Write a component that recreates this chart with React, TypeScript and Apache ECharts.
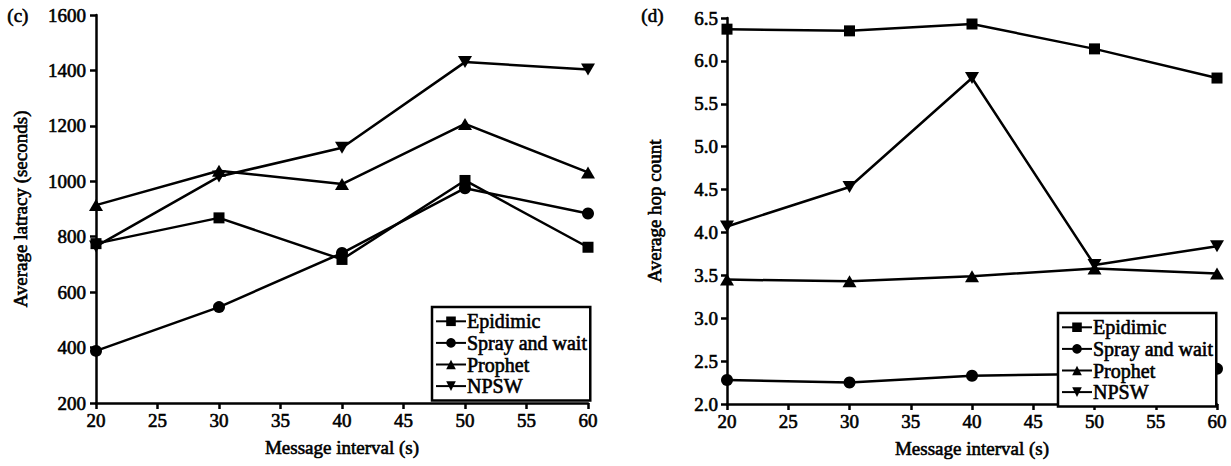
import React, { useEffect, useRef } from "react";
import * as echarts from "echarts";

const xValues = [20, 30, 40, 50, 60];
const seriesNames = ["Epidimic", "Spray and wait", "Prophet", "NPSW"];

// (c) Average latency (seconds)
const latEpidimic = [775, 868, 718, 1003, 762];
const latSpray = [388, 546, 741, 975, 884];
const latProphet = [914, 1038, 990, 1207, 1032];
const latNPSW = [765, 1017, 1121, 1430, 1403];

// (d) Average hop count
const hopEpidimic = [6.37, 6.35, 6.43, 6.14, 5.8];
const hopSpray = [2.28, 2.25, 2.33, 2.35, 2.41];
const hopProphet = [3.45, 3.43, 3.49, 3.58, 3.52];
const hopNPSW = [4.07, 4.53, 5.8, 3.62, 3.84];

const FONT = "Liberation Serif";
const DOWN_TRI = "path://M0,0 L12,0 L6,10 Z";

const symbols: any[] = ["rect", "circle", "triangle", DOWN_TRI];
const symbolSizes: any[] = [11, 12, [14, 12], [14, 12]];

function makeSeries(data: number[][], xi: number) {
  return data.map((vals, i) => ({
    name: seriesNames[i],
    type: "line",
    xAxisIndex: xi,
    yAxisIndex: xi,
    data: vals.map((v, k) => [xValues[k], v]),
    symbol: symbols[i],
    symbolSize: symbolSizes[i],
    showAllSymbol: true,
    lineStyle: { color: "#000", width: 2.5 },
    itemStyle: { color: "#000" },
    z: 2,
  }));
}

const thick = { textBorderColor: "#000", textBorderWidth: 0.6 };
const axisLine = { show: true, onZero: false, lineStyle: { color: "#000", width: 2.5 } };
const axisTick = { show: true, length: 6, inside: false, lineStyle: { color: "#000", width: 2.5 } };
const labelStyle = { color: "#000", fontFamily: FONT, fontSize: 19, ...thick };
const nameStyle = { color: "#000", fontFamily: FONT, fontSize: 19, ...thick };

function makeLegend(left: number, top: number) {
  return {
    orient: "vertical",
    left,
    top,
    padding: [4, 3, 4, 3],
    itemGap: 1,
    itemWidth: 30,
    itemHeight: 12,
    borderColor: "#000",
    borderWidth: 2.5,
    borderRadius: 0,
    backgroundColor: "#fff",
    z: 10,
    data: seriesNames,
    textStyle: {
      color: "#000",
      fontFamily: FONT,
      fontSize: 20,
      lineHeight: 20,
      padding: [0, 0, 0, -4],
      ...thick,
    },
    selectedMode: false,
  };
}

export default function App() {
  const ref = useRef<HTMLDivElement>(null);
  useEffect(() => {
    if (!ref.current) return;
    const chart = echarts.init(ref.current, undefined, { renderer: "svg" });
    chart.setOption({
      animation: false,
      backgroundColor: "#fff",
      textStyle: { fontFamily: FONT },
      grid: [
        { left: 96, top: 15, width: 492, height: 388 },
        { left: 727, top: 18, width: 490, height: 386 },
      ],
      xAxis: [0, 1].map((gi) => ({
        type: "value",
        gridIndex: gi,
        min: 20,
        max: 60,
        interval: 5,
        axisLine,
        axisTick,
        splitLine: { show: false },
        axisLabel: { ...labelStyle, margin: 8 },
        name: "Message interval (s)",
        nameLocation: "middle",
        nameGap: 35,
        nameTextStyle: nameStyle,
      })),
      yAxis: [
        {
          type: "value",
          gridIndex: 0,
          min: 200,
          max: 1600,
          interval: 200,
          axisLine,
          axisTick,
          splitLine: { show: false },
          axisLabel: { ...labelStyle, margin: 10, formatter: (v: number) => String(v) },
          name: "Average latracy (seconds)",
          nameLocation: "middle",
          nameGap: 66,
          nameTextStyle: nameStyle,
        },
        {
          type: "value",
          gridIndex: 1,
          min: 2,
          max: 6.5,
          interval: 0.5,
          axisLine,
          axisTick,
          splitLine: { show: false },
          axisLabel: { ...labelStyle, margin: 9, formatter: (v: number) => v.toFixed(1) },
          name: "Average hop count",
          nameLocation: "middle",
          nameGap: 63,
          nameTextStyle: nameStyle,
        },
      ],
      legend: [makeLegend(432, 307), makeLegend(1058, 313)],
      graphic: [
        {
          type: "text",
          left: 7,
          top: 6,
          style: { text: "(c)", fill: "#000", font: `19px "${FONT}"`, stroke: "#000", lineWidth: 0.6 },
        },
        {
          type: "text",
          left: 641,
          top: 6,
          style: { text: "(d)", fill: "#000", font: `19px "${FONT}"`, stroke: "#000", lineWidth: 0.6 },
        },
      ],
      series: [
        ...makeSeries([latEpidimic, latSpray, latProphet, latNPSW], 0),
        ...makeSeries([hopEpidimic, hopSpray, hopProphet, hopNPSW], 1),
      ],
    });
    return () => chart.dispose();
  }, []);
  return (
    <div
      ref={ref}
      style={{ position: "absolute", left: 0, top: 0, width: 1231, height: 466, background: "#fff" }}
    />
  );
}
